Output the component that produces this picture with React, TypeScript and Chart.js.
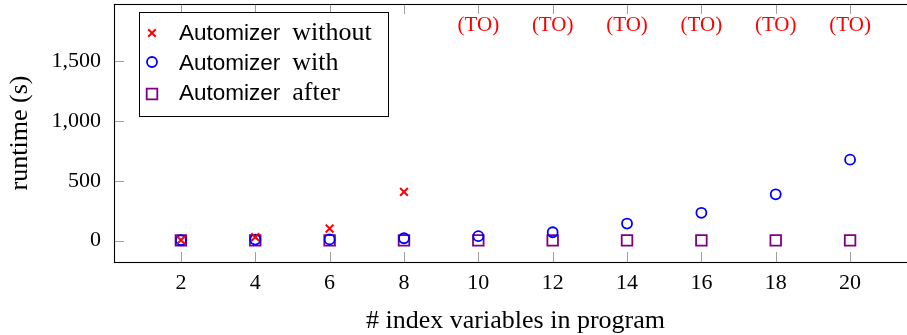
import React, { useEffect, useRef } from "react";
import { Chart, registerables } from "chart.js";

Chart.register(...registerables);

// ---- data ----
const xValues = [2, 4, 6, 8, 10, 12, 14, 16, 18, 20];
const TIMEOUT = 1800;
const withoutValues = [3, 28, 100, 407, 1800, 1800, 1800, 1800, 1800, 1800];
const withValues = [2, 8, 9, 19, 36, 69, 142, 232, 387, 677];
const afterValues = [1, 1, 1, 1, 1, 1, 1, 1, 1, 1];
const seriesPrefix = "Automizer";
const seriesNames = ["without", "with", "after"];
const xTicks = [2, 4, 6, 8, 10, 12, 14, 16, 18, 20];
const yTicks = [0, 500, 1000, 1500];
const xTitle = "# index variables in program";
const yTitle = "runtime (s)";
const timeoutLabel = "(TO)";

const SERIF = "'Liberation Serif', 'Times New Roman', serif";
const SANS = "'Liberation Sans', Arial, sans-serif";
const RED = "#ff0000";
const BLUE = "#0000ff";
const PURPLE = "#800080";
const TICK_SIZE = 22;
const TITLE_SIZE = 26;

const framePlugin = {
  id: "frame",
  afterDatasetsDraw(chart: any) {
    const { ctx, chartArea } = chart;
    const { left, right, top, bottom } = chartArea;
    const xs = chart.scales.x;
    const ys = chart.scales.y;
    ctx.save();
    ctx.strokeStyle = "#a0a0a0";
    ctx.lineWidth = 1;
    const tl = 10;
    ctx.beginPath();
    xTicks.forEach((v) => {
      const px = Math.round(xs.getPixelForValue(v)) + 0.5;
      ctx.moveTo(px, bottom);
      ctx.lineTo(px, bottom - tl);
      ctx.moveTo(px, top);
      ctx.lineTo(px, top + tl);
    });
    yTicks.forEach((v) => {
      const py = Math.round(ys.getPixelForValue(v)) + 0.5;
      ctx.moveTo(left, py);
      ctx.lineTo(left + tl, py);
      ctx.moveTo(right, py);
      ctx.lineTo(right - tl, py);
    });
    ctx.stroke();
    ctx.strokeStyle = "#000";
    ctx.lineWidth = 1.1;
    ctx.strokeRect(Math.round(left) + 0.5, Math.round(top) + 0.5, Math.round(right - left), Math.round(bottom - top));
    ctx.restore();
  },
};

const timeoutPlugin = {
  id: "timeoutLabels",
  afterDatasetsDraw(chart: any) {
    const { ctx } = chart;
    const meta = chart.getDatasetMeta(0);
    ctx.save();
    ctx.fillStyle = RED;
    ctx.font = `21px ${SERIF}`;
    ctx.textAlign = "center";
    ctx.textBaseline = "middle";
    withoutValues.forEach((v, i) => {
      if (v === TIMEOUT) {
        const el = meta.data[i];
        ctx.fillText(timeoutLabel, el.x, el.y);
      }
    });
    ctx.restore();
  },
};

const legendPlugin = {
  id: "customLegend",
  afterDraw(chart: any) {
    const { ctx } = chart;
    const bx = 139, by = 12, bw = 249, bh = 104;
    ctx.save();
    ctx.fillStyle = "#fff";
    ctx.fillRect(bx, by, bw, bh);
    ctx.strokeStyle = "#000";
    ctx.lineWidth = 1;
    ctx.strokeRect(bx + 0.5, by + 0.5, bw, bh);
    const markerY = [33, 62, 94];
    const baseY = [40, 70, 100];
    const mx = 152;
    const tx = 179;
    chart.data.datasets.forEach((ds: any, i: number) => {
      const y = markerY[i];
      ctx.strokeStyle = ds.borderColor;
      ctx.lineWidth = ds.borderWidth;
      ctx.beginPath();
      if (ds.pointStyle === "crossRot") {
        const d = 3.8;
        ctx.moveTo(mx - d, y - d);
        ctx.lineTo(mx + d, y + d);
        ctx.moveTo(mx + d, y - d);
        ctx.lineTo(mx - d, y + d);
      } else if (ds.pointStyle === "circle") {
        ctx.arc(mx, y, 5, 0, Math.PI * 2);
      } else {
        ctx.rect(mx - 5.3, y - 5.3, 10.6, 10.6);
      }
      ctx.stroke();
      ctx.fillStyle = "#000";
      ctx.textBaseline = "alphabetic";
      ctx.textAlign = "left";
      ctx.font = `22.5px ${SANS}`;
      ctx.fillText(seriesPrefix, tx, baseY[i]);
      const w = ctx.measureText(seriesPrefix).width;
      ctx.font = `26px ${SERIF}`;
      ctx.fillText(seriesNames[i], tx + w + 12, baseY[i]);
    });
    ctx.restore();
  },
};

export default function App() {
  const ref = useRef<HTMLCanvasElement | null>(null);
  useEffect(() => {
    if (!ref.current) return;
    const chart = new Chart(ref.current, {
      type: "scatter",
      data: {
        datasets: [
          {
            label: `${seriesPrefix} ${seriesNames[0]}`,
            data: xValues.map((x, i) => ({ x, y: withoutValues[i] })),
            pointStyle: "crossRot",
            pointRadius: withoutValues.map((v) => (v === TIMEOUT ? 0 : 5.5)),
            borderColor: RED,
            backgroundColor: RED,
            borderWidth: 2,
          },
          {
            label: `${seriesPrefix} ${seriesNames[1]}`,
            data: xValues.map((x, i) => ({ x, y: withValues[i] })),
            pointStyle: "circle",
            pointRadius: 5,
            borderColor: BLUE,
            backgroundColor: "transparent",
            borderWidth: 1.8,
          },
          {
            label: `${seriesPrefix} ${seriesNames[2]}`,
            data: xValues.map((x, i) => ({ x, y: afterValues[i] })),
            pointStyle: "rect",
            pointRadius: 7.5,
            borderColor: PURPLE,
            backgroundColor: "transparent",
            borderWidth: 1.8,
          },
        ] as any,
      },
      options: {
        animation: false,
        responsive: false,
        events: [],
        layout: { padding: { left: 0, top: 4, right: 3, bottom: 0 }, autoPadding: false },
        plugins: { legend: { display: false }, tooltip: { enabled: false } },
        scales: {
          x: {
            type: "linear",
            min: 0.2,
            max: 21.8,
            afterBuildTicks: (s: any) => {
              s.ticks = xTicks.map((v) => ({ value: v }));
            },
            afterFit: (s: any) => {
              s.height = 73;
              s.paddingLeft = 0;
              s.paddingRight = 0;
              s.paddingTop = 0;
              s.paddingBottom = 0;
            },
            grid: { display: false, drawTicks: false },
            border: { display: false },
            ticks: { color: "#000", font: { family: SERIF, size: TICK_SIZE }, padding: 8, maxRotation: 0 },
            title: {
              display: true,
              text: xTitle,
              color: "#000",
              font: { family: SERIF, size: TITLE_SIZE, lineHeight: 1.1 },
              padding: { top: 0, bottom: 0 },
            },
          },
          y: {
            type: "linear",
            min: -180,
            max: 1980,
            afterBuildTicks: (s: any) => {
              s.ticks = yTicks.map((v) => ({ value: v }));
            },
            afterFit: (s: any) => {
              s.width = 114;
              s.paddingLeft = 0;
              s.paddingRight = 0;
              s.paddingTop = 0;
              s.paddingBottom = 0;
            },
            grid: { display: false, drawTicks: false },
            border: { display: false },
            ticks: {
              color: "#000",
              font: { family: SERIF, size: TICK_SIZE },
              padding: 13,
              callback: (v: any) => Number(v).toLocaleString("en-US"),
            },
            title: {
              display: true,
              text: yTitle,
              color: "#000",
              font: { family: SERIF, size: TITLE_SIZE, lineHeight: 1.1 },
              padding: { top: 6, bottom: 0 },
            },
          },
        },
      } as any,
      plugins: [framePlugin, timeoutPlugin, legendPlugin],
    });
    return () => chart.destroy();
  }, []);
  return (
    <div style={{ position: "fixed", left: 0, top: 0, width: 907, height: 335, overflow: "hidden", background: "#fff" }}>
      <canvas ref={ref} width={920} height={335} style={{ width: 920, height: 335, display: "block" }} />
    </div>
  );
}
